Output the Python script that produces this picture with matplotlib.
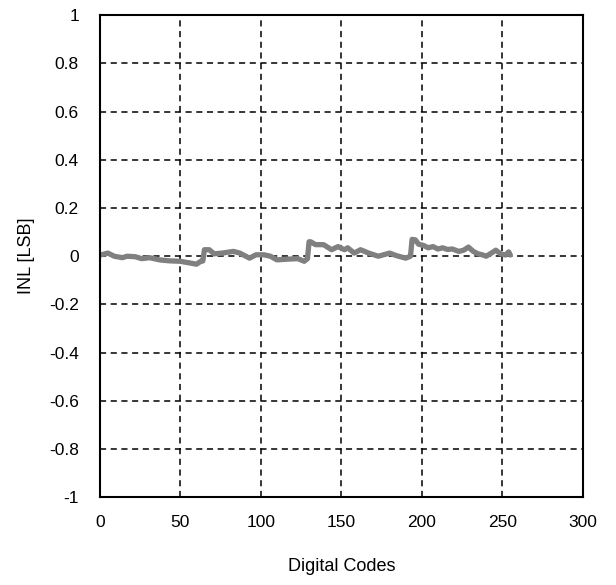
import matplotlib
matplotlib.use("Agg")
from matplotlib import pyplot as plt

plt.rcParams['font.family'] = ['Liberation Sans', 'DejaVu Sans']

# INL, per digital code
codes = [0, 1, 5, 9, 14, 17, 22, 26, 31, 37, 43, 50, 56, 60, 63, 64,
         65, 68, 71, 76, 83, 87, 93, 97, 102, 106, 110, 117, 123, 127, 129,
         130, 131, 134, 139, 144, 148, 152, 154, 158, 162, 167, 173, 180, 184, 190, 193,
         194, 196, 198, 201, 204, 207, 210, 213, 216, 219, 223, 226, 229, 232, 235,
         238, 240, 243, 246, 249, 252, 254, 255]
inl = [0.005, 0.006, 0.013, 0.0, -0.006, 0.0, -0.002, -0.01, -0.006, -0.015, -0.019, -0.021, -0.028, -0.033, -0.02, -0.02,
       0.027, 0.027, 0.01, 0.013, 0.02, 0.013, -0.008, 0.006, 0.006, 0.0, -0.015, -0.012, -0.01, -0.021, -0.01,
       0.06, 0.06, 0.048, 0.048, 0.027, 0.04, 0.027, 0.035, 0.013, 0.027, 0.013, 0.0, 0.013, 0.003, -0.008, 0.0,
       0.07, 0.068, 0.05, 0.045, 0.035, 0.04, 0.03, 0.035, 0.028, 0.03, 0.02, 0.025, 0.038, 0.02, 0.01,
       0.005, 0.0, 0.012, 0.025, 0.01, 0.005, 0.018, 0.005]

xticks = [0, 50, 100, 150, 200, 250, 300]
yticks = [-1, -0.8, -0.6, -0.4, -0.2, 0, 0.2, 0.4, 0.6, 0.8, 1]
ylabels = ["-1", "-0.8", "-0.6", "-0.4", "-0.2", "0", "0.2", "0.4", "0.6", "0.8", "1"]

fig = plt.figure(figsize=(6.16, 5.85), dpi=100)
ax = fig.add_axes([0.162, 0.150, 0.784, 0.824])

ax.plot(codes, inl, color="#808080", linewidth=3.8, solid_joinstyle="round",
        solid_capstyle="round")

ax.set_xlim(0, 300)
ax.set_ylim(-1, 1)
ax.set_xticks(xticks)
ax.set_yticks(yticks)
ax.set_yticklabels(ylabels)
ax.tick_params(length=0, labelsize=12.5)
ax.tick_params(axis="x", pad=13)
ax.tick_params(axis="y", pad=15)
ax.grid(True, color="black", linestyle=(0, (4, 3)), linewidth=1.1)
for s in ax.spines.values():
    s.set_linewidth(1.5)
    s.set_color("black")

ax.set_xlabel("Digital Codes", fontsize=13, labelpad=20)
ax.set_ylabel("INL [LSB]", fontsize=13, labelpad=10)

fig.savefig("out.png", dpi=100)
